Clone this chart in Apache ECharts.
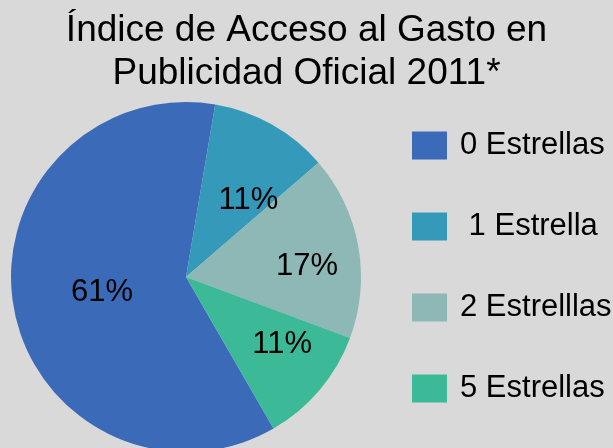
<!DOCTYPE html>
<html>
<head>
<meta charset="utf-8">
<script src="https://cdn.jsdelivr.net/npm/echarts@6/dist/echarts.min.js"></script>
<style>
  html, body { margin: 0; padding: 0; }
  #chart { width: 613px; height: 448px; }
</style>
</head>
<body>
<div id="chart"></div>
<script>
// datos del gráfico
const categorias = ["0 Estrellas", " 1 Estrella", "2 Estrelllas", "5 Estrellas"];
const porcentajes = [61, 11, 17, 11];
const colores = ["#3a6ab8", "#3599ba", "#8db8b5", "#3cba98"];
// desplazamiento de cada etiqueta dentro de su rebanada
const desplazEtiquetas = [[5, -1], [18, 2], [32, 5], [27, 9]];

const fuente = "Liberation Sans";

const chart = echarts.init(document.getElementById("chart"));
chart.setOption({
  backgroundColor: "#d9d9d9",
  animation: false,
  title: {
    text: "Índice de Acceso al Gasto en\nPublicidad Oficial 2011*",
    left: "center",
    top: 4,
    textStyle: {
      fontFamily: fuente,
      fontSize: 37,
      fontWeight: "normal",
      color: "#000",
      lineHeight: 43,
    },
  },
  legend: {
    orient: "vertical",
    left: 407,
    top: 125,
    itemWidth: 35,
    itemHeight: 28,
    itemGap: 50,
    icon: "rect",
    data: categorias,
    textStyle: {
      fontFamily: fuente,
      fontSize: 31,
      color: "#000",
      lineHeight: 28,
      padding: [0, 0, 0, 8],
    },
  },
  series: [
    {
      type: "pie",
      center: [186, 277],
      radius: 175,
      startAngle: 300,
      clockwise: true,
      label: {
        show: true,
        position: "inside",
        formatter: "{c}%",
        fontFamily: fuente,
        fontSize: 31,
        color: "#000",
      },
      labelLine: { show: false },
      labelLayout: function (p) {
        const d = desplazEtiquetas[p.dataIndex];
        return { dx: d[0], dy: d[1] };
      },
      data: categorias.map((n, i) => ({
        name: n,
        value: porcentajes[i],
        itemStyle: { color: colores[i] },
      })),
    },
  ],
});
</script>
</body>
</html>
